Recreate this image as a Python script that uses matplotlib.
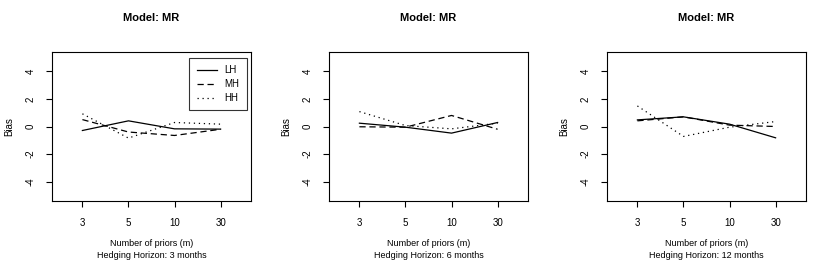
import matplotlib
matplotlib.use("Agg")
import matplotlib.pyplot as plt
from matplotlib.lines import Line2D

plt.rcParams['font.family'] = ['Liberation Sans', 'DejaVu Sans']

priors = ["3", "5", "10", "30"]
horizons = ["3 months", "6 months", "12 months"]
series = ["LH", "MH", "HH"]

lh = [[-0.29, 0.41, -0.17, -0.19],
      [0.24, -0.05, -0.48, 0.29],
      [0.48, 0.70, 0.17, -0.82]]
mh = [[0.50, -0.40, -0.65, -0.20],
      [-0.02, -0.05, 0.80, -0.20],
      [0.41, 0.70, 0.10, 0.00]]
hh = [[0.92, -0.84, 0.29, 0.17],
      [1.08, 0.07, -0.17, 0.24],
      [1.49, -0.72, -0.05, 0.36]]

W, H = 833, 266
fig = plt.figure(figsize=(W / 100, H / 100), dpi=100)

lefts = [52, 329, 607]
width = 199
top, bottom = 52, 201
styles = ['-', (0, (5, 3)), (0, (1, 3))]

x = list(range(1, len(priors) + 1))
for i in range(3):
    ax = fig.add_axes([lefts[i] / W, 1 - bottom / H, width / W, (bottom - top) / H])
    for vals, ls, name in zip([lh[i], mh[i], hh[i]], styles, series):
        ax.plot(x, vals, color='black', lw=0.9, linestyle=ls, label=name)
    ax.set_xlim(0.34, 4.66)
    ax.set_ylim(-5.4, 5.4)
    ax.set_xticks(x)
    ax.set_xticklabels(priors, fontsize=7)
    ax.set_yticks([-4, -2, 0, 2, 4])
    ax.set_yticklabels(['-4', '-2', '0', '2', '4'], fontsize=7, rotation=90, va='center')
    ax.tick_params(length=4, width=0.8, pad=8)
    for s in ax.spines.values():
        s.set_linewidth(0.8)
    ax.set_title("Model: MR", fontsize=8, fontweight='bold', pad=22)
    ax.set_ylabel("Bias", fontsize=7, labelpad=8)
    cx = (lefts[i] + width / 2) / W
    fig.text(cx, 1 - 243 / H, "Number of priors (m)", fontsize=6.5, ha='center', va='center')
    fig.text(cx, 1 - 255 / H, "Hedging Horizon: " + horizons[i], fontsize=6.5,
             ha='center', va='center')
    if i == 0:
        leg = ax.legend(loc='upper right', fontsize=7, frameon=True, fancybox=False,
                        edgecolor='black', handlelength=2.1, handletextpad=0.8,
                        borderpad=0.75, labelspacing=0.4, borderaxespad=0,
                        bbox_to_anchor=(247 / W, 1 - 58 / H),
                        bbox_transform=fig.transFigure)
        leg.get_frame().set_linewidth(0.8)

fig.savefig("out.png", dpi=100)
